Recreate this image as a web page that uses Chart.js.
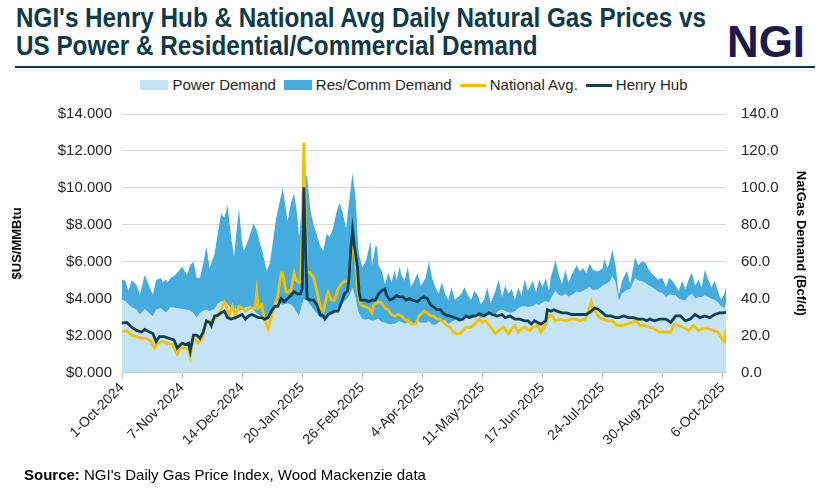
<!DOCTYPE html>
<html>
<head>
<meta charset="utf-8">
<script src="https://cdn.jsdelivr.net/npm/chart.js@4.4.1/dist/chart.umd.min.js"></script>
<style>
  body { margin: 0; background: #fff; width: 828px; height: 488px; overflow: hidden; position: relative;
         font-family: "Liberation Sans", Arial, sans-serif; color: #262626; }
  .title { position: absolute; left: 16px; white-space: nowrap; transform-origin: 0 0;
           font-family: "Liberation Sans Narrow", "Arial Narrow", "Liberation Sans", sans-serif;
           font-weight: bold; font-size: 27px; line-height: 30px; color: #10394a; }
  #t1 { top: 3px; }
  #t2 { top: 31px; }
  #logo { position: absolute; left: 727px; top: 17px; white-space: nowrap; transform-origin: 0 0;
          font-family: "Liberation Sans Narrow", "Arial Narrow", "Liberation Sans", sans-serif;
          font-weight: bold; font-size: 45px; line-height: 50px; color: #1b1a4c; }
  #rule { position: absolute; left: 15px; top: 66px; width: 800px; height: 2px; background: #10394a; }
  #legend { position: absolute; top: 76px; left: 0; width: 828px; display: flex; justify-content: center;
            align-items: center; font-size: 15px; line-height: 18px; color: #262626; }
  #legend .item { display: flex; align-items: center; margin: 0 4px; }
  #legend .box { width: 28px; height: 10px; margin-right: 4px; }
  #legend .ln { width: 26px; height: 3px; margin-right: 4px; }
  #chart { position: absolute; left: 0; top: 90px; }
  #source { position: absolute; left: 24px; top: 466px; font-size: 15px; color: #000; }
</style>
</head>
<body>
<div class="title" id="t1">NGI's Henry Hub &amp; National Avg Daily Natural Gas Prices vs</div>
<div class="title" id="t2">US Power &amp; Residential/Commercial Demand</div>
<div id="logo">NGI</div>
<div id="rule"></div>
<div id="legend">
  <div class="item"><span class="box" style="background:#c4e4f4"></span>Power Demand</div>
  <div class="item"><span class="box" style="background:#44acdf"></span>Res/Comm Demand</div>
  <div class="item"><span class="ln" style="background:#f6c000"></span>National Avg.</div>
  <div class="item"><span class="ln" style="background:#0f3f55"></span>Henry Hub</div>
</div>
<canvas id="chart" width="828" height="380"></canvas>
<div id="source"><b>Source:</b> NGI's Daily Gas Price Index, Wood Mackenzie data</div>

<script>
// x = days since 1-Oct-2024, labels every 37 days
const tickLabels = ["1-Oct-2024", "7-Nov-2024", "14-Dec-2024", "20-Jan-2025", "26-Feb-2025", "4-Apr-2025",
  "11-May-2025", "17-Jun-2025", "24-Jul-2025", "30-Aug-2025", "6-Oct-2025"];
const tickStep = 37;
const lastDay = 372;

// demand (Bcf/d), stacked: power first, res/comm on top
const demandDays = [0,2,4,6,9,11,14,17,19,21, 24,25,27,28,30,33,37,40,42,44, 46,48,50,52,54,57,59,61,63,65,
  67,69,70,72,74,75,77,79,81,83, 85,87,89,91,93,95,97,99,100,102, 104,106,108,109,111,112,114,116,118,120,
  122,124,126,128,130,132,134,136,138,140, 142,144,145,146,148,150,151,153,154,156, 157,158,160,162,164,166,168,169,171,172,
  174,176,178,180,182,184,187,189,191,193, 195,197,199,201,203,205,207,209,211,213, 215,217,219,221,223,225,227,230,232,234,
  236,238,240,242,244,246,248,250,253,255, 257,259,261,263,264,267,269,271,273,275, 277,280,282,284,286,288,290,293,296,297,
  299,300,302,304,306,308,311,313,316,318, 320,322,324,326,328,330,333,335,337,339, 341,343,345,347,349,351,353,355,357,359,
  361,363,365,367,369,371,372];
const powerDemand = [39.3,38.8,37.0,35.5,34.0,31.5,34.5,32.0,30.6,34.0, 35.0,34.0,32.6,33.5,35.5,35.0,34.5,34.0,33.5,32.3,
  29.8,32.3,33.5,34.0,33.2,34.5,37.5,38.5,39.0,37.0, 35.0,34.0,35.0,33.5,34.0,35.0,35.5,36.0,34.0,32.0,
  31.0,30.0,28.5,30.0,36.0,38.4,38.4,36.7,37.0,37.5, 37.0,35.0,32.0,30.6,37.0,40.0,39.0,36.7,34.0,32.0,
  29.8,29.0,30.0,31.5,33.0,34.0,36.7,38.0,39.3,41.8, 46.0,40.0,35.0,32.0,29.0,28.5,29.0,28.5,28.1,28.5,
  29.0,29.0,27.5,27.0,26.4,26.4,26.5,27.0,28.0,27.5, 26.5,27.2,26.5,25.8,28.0,27.0,27.0,28.0,26.0,26.0,
  27.2,28.5,28.5,26.4,27.5,28.5,29.0,29.5,30.0,30.6, 29.5,29.5,31.0,29.5,30.6,31.8,32.3,31.5,33.5,34.0,
  33.4,32.6,32.5,33.2,34.8,35.8,35.8,35.5,36.0,37.3, 36.8,38.0,39.0,38.0,40.0,44.4,42.0,41.5,42.7,41.2,
  42.0,44.0,43.5,44.5,45.3,46.2,44.8,45.0,47.0,47.5, 48.5,49.0,52.2,49.0,39.0,43.0,44.8,45.3,51.3,50.0,
  49.5,48.8,47.5,46.5,45.3,44.0,43.0,41.0,42.5,42.0, 41.8,40.0,39.3,39.3,41.5,42.7,40.1,40.8,41.0,41.8,
  41.0,40.1,39.3,38.0,36.0,35.0,37.5];
const resCommDemand = [11.2,11.0,7.4,14.5,13.4,10.7,18.5,14.5,11.6,16.0, 16.3,15.0,17.9,15.5,15.8,18.0,22.8,19.0,24.7,27.9,
  21.5,19.0,25.5,34.2,23.3,29.8,37.9,47.5,45.0,53.5, 40.0,28.5,37.0,55.5,36.0,31.0,34.5,39.0,47.0,45.0,
  39.0,34.0,26.5,29.0,35.0,45.6,53.6,63.3,57.0,44.5, 55.0,62.0,53.0,42.4,55.0,69.0,67.0,51.3,46.0,42.6,
  38.7,37.0,45.0,42.1,45.0,52.6,55.3,48.6,38.7,51.7, 62.0,53.0,40.0,32.0,28.0,31.5,34.0,42.5,29.9,39.5,
  39.5,29.0,27.5,21.0,27.6,22.6,29.2,23.0,29.4,25.5, 23.2,30.2,19.7,23.9,26.0,20.0,24.3,32.3,25.3,20.2,
  15.5,20.3,14.2,12.9,18.7,10.8,12.0,13.2,16.2,11.2, 9.8,14.9,11.0,7.5,8.7,14.4,5.2,12.9,17.0,7.0,
  13.7,10.1,12.8,6.1,11.4,6.0,14.7,8.9,13.7,6.2, 13.7,8.2,12.3,6.4,11.3,16.4,11.0,6.4,13.0,7.6,
  11.0,14.2,11.3,12.0,8.7,12.9,10.9,9.8,9.5,14.2, 8.0,10.1,14.3,9.2,3.0,6.7,10.4,2.7,11.2,8.2,
  10.4,11.1,9.0,7.5,6.9,6.5,8.3,5.2,8.8,7.7, 5.3,4.4,10.4,6.0,9.0,11.3,7.0,9.7,5.2,13.9,
  9.5,6.1,10.4,6.4,3.3,7.7,8.7];

// Henry Hub ($/MMBtu)
const hhDays = [0,3,6,9,12,14,17,19,21,23, 26,29,32,34,37,39,41,42,44,46, 48,50,52,54,55,57,59,61,63,65,
  67,70,72,74,76,78,80,82,84,86, 88,90,92,94,96,98,100,102,104,106, 108,110,111,112,113,114,116,118,120,122,
  124,125,127,129,131,133,135,137,139,140, 141,142,143,145,146,147,150,152,154,156, 158,160,162,163,165,167,169,171,173,175,
  177,179,182,184,186,188,190,192,194,196, 198,200,202,204,206,208,210,212,214,216, 218,220,223,226,228,231,234,236,239,242,
  245,248,250,252,254,256,258,261,262,264, 266,268,271,274,277,280,283,286,289,291, 293,296,298,301,304,306,309,312,315,318,
  321,323,325,328,331,335,338,341,344,347, 350,353,356,359,362,365,368,370,372];
const hhPrice = [2.69,2.72,2.46,2.29,2.2,2.34,2.2,2.12,1.69,1.95, 1.95,1.86,1.78,1.34,1.6,1.52,1.6,1.17,2.03,2.03,
  1.86,2.2,2.81,2.72,2.55,3.07,3.1,3.24,3.33,2.98, 2.9,2.98,3.07,3.15,2.9,3.07,3.15,3.07,2.98,2.98,
  2.9,2.98,3.33,3.59,3.59,4.01,3.84,4.01,4.18,4.39, 4.27,4.27,4.53,10.04,6.94,4.01,3.93,3.93,3.67,3.15,
  3.07,2.9,3.15,3.24,3.33,3.33,3.76,4.27,4.44,5.39, 6.77,7.72,6.94,5.73,4.36,3.93,3.93,3.84,3.93,3.93,
  4.27,4.44,4.53,4.18,3.93,4.01,4.18,4.1,4.1,3.93, 4.01,3.93,3.84,4.01,4.1,4.01,3.67,3.55,3.41,3.41,
  3.2,3.1,3.07,3.0,2.95,2.85,2.9,3.07,2.98,3.07, 3.07,3.2,3.07,3.24,3.15,3.07,3.15,2.98,3.07,2.9,
  2.9,2.81,2.81,2.63,2.81,2.72,2.63,2.81,3.41,3.33, 3.41,3.33,3.24,3.24,3.15,3.15,3.15,3.15,3.33,3.5,
  3.45,3.24,3.07,3.07,2.98,2.98,3.07,2.98,2.98,2.9, 2.9,2.81,2.9,2.81,2.9,2.9,2.72,3.07,3.07,2.81,
  2.9,3.15,2.98,3.07,2.98,3.15,3.24,3.24,3.27];

// National average ($/MMBtu)
const navDays = [0,3,6,9,12,15,18,20,22,25, 28,31,34,36,39,41,42,44,47,49, 52,55,58,61,63,64,66,68,70,72,
  74,76,79,82,83,84,86,88,90,92, 94,96,98,99,101,102,104,106,107,109, 110,111,112,113,114,116,118,120,122,124,
  126,127,129,131,133,135,137,139,140,141, 142,144,145,147,149,152,154,155,158,160, 162,164,166,168,170,172,174,176,179,181,
  183,186,188,190,192,194,196,198,200,202, 204,206,208,210,212,215,218,220,222,224, 227,230,232,235,238,240,242,244,246,248,
  251,253,256,258,261,263,265,267,270,273, 276,279,282,285,287,289,290,292,294,296, 299,302,305,308,311,314,317,319,322,325,
  328,331,335,338,340,343,346,349,352,355, 358,361,364,367,370,371,372];
const navPrice = [2.2,2.29,2.03,1.95,1.86,1.86,1.69,1.34,1.6,1.69, 1.6,1.52,1.0,1.34,1.34,1.26,0.91,1.86,1.6,1.78,
  2.72,2.81,2.98,3.41,3.84,3.67,3.07,3.59,3.07,3.59, 3.5,3.33,3.5,3.5,4.36,3.5,3.67,2.81,2.38,2.98,
  3.67,4.18,5.39,5.39,4.36,4.36,4.44,5.39,5.05,4.87, 4.9,7.46,12.45,8.32,5.48,5.39,5.13,4.44,3.59,3.33,
  4.1,4.36,3.93,3.93,4.53,4.79,4.96,4.96,5.39,6.08, 7.3,6.08,4.53,3.67,3.59,3.5,3.24,3.67,3.84,3.76,
  3.5,3.41,3.15,3.07,3.15,3.07,2.9,2.81,2.63,2.63, 3.07,3.33,3.24,3.07,3.07,2.9,2.9,2.72,2.55,2.46,
  2.2,2.12,2.12,2.29,2.46,2.46,2.72,2.9,2.72,2.81, 2.46,2.12,2.29,2.46,2.12,2.38,2.55,2.2,2.38,2.46,
  2.29,2.46,2.55,2.2,2.63,3.07,3.07,2.81,2.9,2.81, 2.9,2.9,2.81,2.9,3.24,3.84,3.41,3.24,3.0,2.9,
  2.81,2.81,2.55,2.55,2.63,2.72,2.81,2.55,2.55,2.46, 2.38,2.2,2.2,2.2,2.63,2.55,2.46,2.29,2.55,2.29,
  2.38,2.38,2.29,2.2,1.78,1.69,2.29];

// squeeze the title and logo to the reference widths
function fitWidth(id, w) {
  const el = document.getElementById(id);
  const s = w / el.getBoundingClientRect().width;
  el.style.transform = "scaleX(" + s + ")";
  return s;
}
const titleScale = fitWidth("t1", 690);
document.getElementById("t2").style.transform = "scaleX(" + titleScale + ")";
fitWidth("logo", 78);

const pts = (xs, ys) => xs.map((x, i) => ({ x: x, y: ys[i] }));

const tickFont = { family: "'Liberation Sans', Arial, sans-serif", size: 15 };

new Chart(document.getElementById("chart"), {
  type: "line",
  data: {
    datasets: [
      {
        label: "Power Demand",
        data: pts(demandDays, powerDemand),
        yAxisID: "y1",
        backgroundColor: "#c4e4f4",
        borderWidth: 0,
        fill: "origin",
        pointRadius: 0,
        order: 3
      },
      {
        label: "Res/Comm Demand",
        data: pts(demandDays, demandDays.map((d, i) => powerDemand[i] + resCommDemand[i])),
        yAxisID: "y1",
        backgroundColor: "#44acdf",
        borderWidth: 0,
        fill: "-1",
        pointRadius: 0,
        order: 2
      },
      {
        label: "National Avg.",
        data: pts(navDays, navPrice),
        yAxisID: "y",
        borderColor: "#f6c000",
        borderWidth: 2.8,
        fill: false,
        pointRadius: 0,
        order: 1
      },
      {
        label: "Henry Hub",
        data: pts(hhDays, hhPrice),
        yAxisID: "y",
        borderColor: "#0f3f55",
        borderWidth: 2.8,
        fill: false,
        pointRadius: 0,
        order: 0
      }
    ]
  },
  options: {
    responsive: false,
    animation: false,
    layout: { padding: { top: 12.3, left: 0, right: 0, bottom: 0 } },
    plugins: { legend: { display: false }, tooltip: { enabled: false } },
    scales: {
      x: {
        type: "linear",
        min: 0,
        max: lastDay,
        afterFit: s => { s.height = 97.3; },
        ticks: {
          stepSize: tickStep,
          includeBounds: false,
          autoSkip: false,
          maxRotation: 45,
          minRotation: 45,
          padding: 2,
          color: "#262626",
          font: { family: tickFont.family, size: 14 },
          callback: v => tickLabels[Math.round(v / tickStep)]
        },
        grid: { drawOnChartArea: false, tickLength: 5, color: "#bfbfbf" },
        border: { color: "#bfbfbf" }
      },
      y: {
        position: "left",
        min: 0,
        max: 14,
        afterFit: s => { s.width = 122; },
        ticks: { stepSize: 2, padding: 10, color: "#262626", font: tickFont, callback: v => "$" + v.toFixed(3) },
        grid: { color: "#d9d9d9", drawTicks: false },
        border: { display: false },
        title: { display: true, text: "$US/MMBtu", color: "#000", padding: { top: 10 },
                 font: { family: tickFont.family, size: 13, weight: "bold" } }
      },
      y1: {
        position: "right",
        min: 0,
        max: 140,
        afterFit: s => { s.width = 102; },
        ticks: { stepSize: 20, padding: 15, color: "#262626", font: tickFont, callback: v => v.toFixed(1) },
        grid: { drawOnChartArea: false, drawTicks: false },
        border: { display: false },
        title: { display: true, text: "NatGas Demand (Bcf/d)", color: "#000", padding: { top: 20 },
                 font: { family: tickFont.family, size: 13, weight: "bold" } }
      }
    }
  }
});
</script>
</body>
</html>
